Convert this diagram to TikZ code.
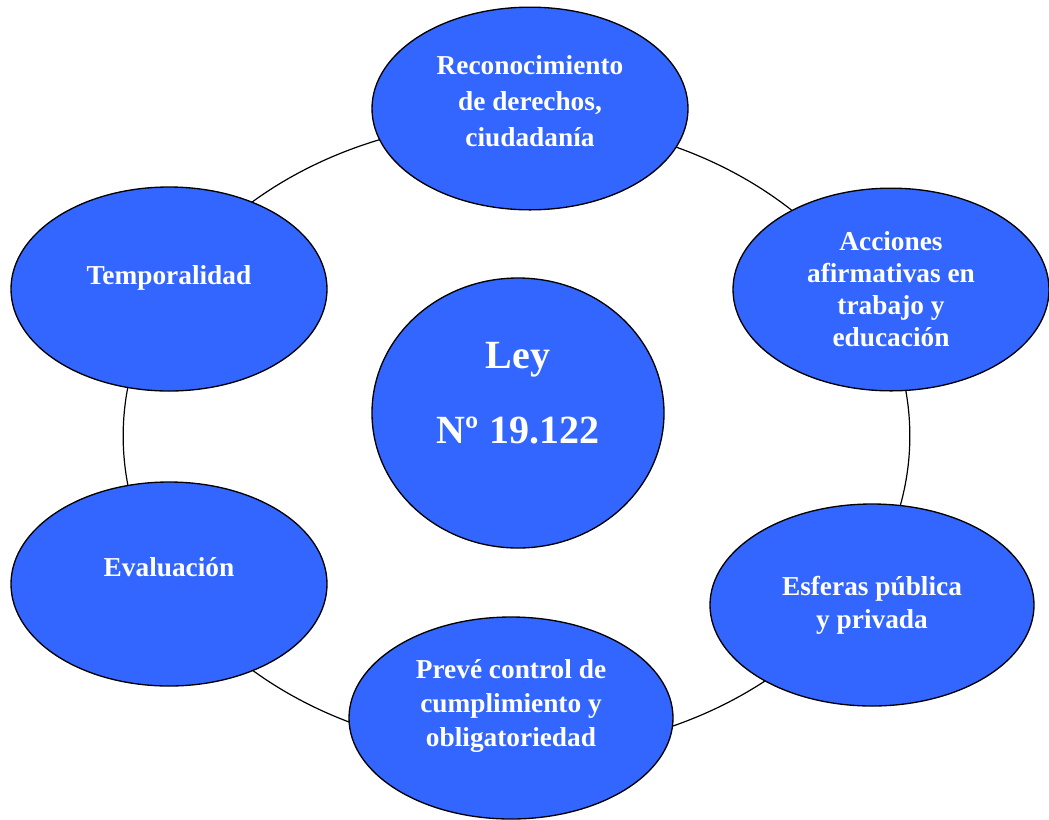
\documentclass[tikz,border=0pt]{standalone}
\usepackage{fontspec}
\setmainfont{Liberation Serif}
\usetikzlibrary{
  positioning,
  shapes.geometric,
}
\definecolor{bubbleFill}{HTML}{3366FF}
\definecolor{border}{HTML}{000000}
\tikzset{
  bubble/.style={
    ellipse, draw=border, fill=bubbleFill, line width=1pt,
    inner sep=0pt, align=center, text=white,
    font=\bfseries\fontsize{20.5}{25}\selectfont,
  },
  bubtext/.style={
    align=center, text=white, inner sep=0pt,
    font=\bfseries\fontsize{20.5}{25}\selectfont,
  },
  ring/.style={
    ellipse, draw=border, line width=0.9pt, inner sep=0pt,
  },
}
\begin{document}
\begin{tikzpicture}[x=0.75pt, y=-0.75pt]
  \useasboundingbox (0,0) rectangle (1049,819);

  % Outer ring
  \node[ring, minimum width=590pt, minimum height=474pt] (ring) at (516.5,436) {};

  % Surrounding topics
  \node[bubble, minimum width=237pt, minimum height=152pt,
    label={[bubtext, yshift=5.5pt, font=\bfseries\fontsize{20.5}{27}\selectfont]center:{Reconocimiento\\de derechos,\\ciudadanía}}] (rec) at (530,108.5) {};
  \node[bubble, minimum width=237pt, minimum height=152pt,
    font=\bfseries\fontsize{20.5}{24}\selectfont] (acc) at (891,289.5)
    {Acciones\\afirmativas en\\trabajo y\\educación};
  \node[bubble, minimum width=237pt, minimum height=153pt,
    label={[bubtext, yshift=8pt]center:Temporalidad}] (tem) at (169,289) {};
  \node[bubble, minimum width=237pt, minimum height=153pt,
    label={[bubtext, yshift=12.5pt]center:Evaluación}] (eva) at (169,584) {};
  \node[bubble, minimum width=243pt, minimum height=151.5pt] (esf) at (872,605)
    {Esferas pública\\y privada};
  \node[bubble, minimum width=243pt, minimum height=151.5pt,
    label={[bubtext, yshift=9pt, font=\bfseries\fontsize{20.5}{25.5}\selectfont]center:{Prevé control de\\cumplimiento y\\obligatoriedad}}] (prev) at (511,718) {};

  % Center
  \node[bubble, minimum width=219pt, minimum height=202.5pt,
    label={[bubtext, yshift=15pt, font=\bfseries\fontsize{30}{56}\selectfont]center:{Ley\\Nº 19.122}}] (ley) at (518,413) {};

\end{tikzpicture}
\end{document}
